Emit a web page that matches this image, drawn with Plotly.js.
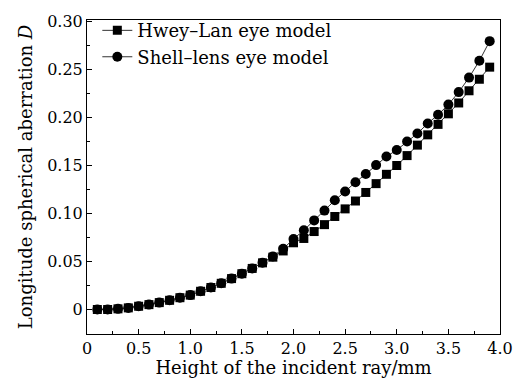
<!DOCTYPE html>
<html>
<head>
<meta charset="utf-8">
<script src="https://cdn.plot.ly/plotly-3.0.1.min.js"></script>
<style>html,body{margin:0;padding:0;background:#fff;}#chart{width:515px;height:378px;}</style>
</head>
<body>
<div id="chart"></div>
<script>
const heights = [0.1,0.2,0.3,0.4,0.5,0.6,0.7,0.8,0.9,1.0,1.1,1.2,1.3,1.4,1.5,1.6,1.7,1.8,1.9,2.0,2.1,2.2,2.3,2.4,2.5,2.6,2.7,2.8,2.9,3.0,3.1,3.2,3.3,3.4,3.5,3.6,3.7,3.8,3.9];
const hweyLan = [0,0,0.0007,0.0017,0.0034,0.0051,0.0072,0.0096,0.0123,0.015,0.019,0.0229,0.0273,0.0322,0.0373,0.0428,0.0486,0.0545,0.061,0.0695,0.074,0.0812,0.0884,0.0969,0.1048,0.113,0.1219,0.1311,0.1408,0.15,0.1603,0.1712,0.1819,0.1928,0.2038,0.2151,0.2278,0.2398,0.2524];
const shellLens = [0,0,0.0007,0.0017,0.0034,0.0051,0.0072,0.0096,0.0123,0.015,0.019,0.0229,0.0273,0.0322,0.0373,0.0428,0.0488,0.0553,0.0633,0.0735,0.0825,0.0928,0.103,0.1137,0.1229,0.1326,0.1411,0.1504,0.1593,0.1661,0.175,0.1833,0.1938,0.2028,0.2134,0.2264,0.2415,0.259,0.2795];
const xTickVals = [0,0.5,1.0,1.5,2.0,2.5,3.0,3.5,4.0];
const xTickText = ["0","0.5","1.0","1.5","2.0","2.5","3.0","3.5","4.0"];
const yTickVals = [0,0.05,0.10,0.15,0.20,0.25,0.30];
const yTickText = ["0","0.05","0.10","0.15","0.20","0.25","0.30"];
const names = ["Hwey\u2013Lan eye model","Shell\u2013lens eye model"];

const font = "DejaVu Serif, Liberation Serif, serif";
const traces = [
  {x: heights, y: hweyLan, name: names[0], mode: "lines+markers", type: "scatter",
   line: {color: "#333", width: 1}, marker: {symbol: "square", size: 9, color: "#000"}},
  {x: heights, y: shellLens, name: names[1], mode: "lines+markers", type: "scatter",
   line: {color: "#333", width: 1}, marker: {symbol: "circle", size: 10, color: "#000"}}
];
const layout = {
  width: 515, height: 378,
  margin: {l: 87, r: 15, t: 17, b: 44, pad: 0},
  paper_bgcolor: "#fff", plot_bgcolor: "#fff",
  font: {family: font, color: "#000", size: 16},
  showlegend: true,
  legend: {x: 0.025, y: 1.025, xanchor: "left", yanchor: "top", bgcolor: "rgba(0,0,0,0)",
           font: {family: font, size: 18, color: "#000"}, tracegroupgap: 0, itemwidth: 30},
  xaxis: {range: [0, 4.0], tickvals: xTickVals, ticktext: xTickText, ticks: "inside", ticklen: 5,
          tickcolor: "#000", showline: true, linecolor: "#000", linewidth: 1, mirror: true,
          showgrid: false, zeroline: false, tickfont: {size: 16}, ticklabeloverflow: "allow",
          minor: {dtick: 0.25, ticks: "inside", ticklen: 3, tickcolor: "#000"},
          title: {text: "Height of the incident ray/mm", font: {size: 18}, standoff: 1}},
  yaxis: {range: [-0.0255, 0.3015], tickvals: yTickVals, ticktext: yTickText, ticks: "inside", ticklen: 5,
          tickcolor: "#000", showline: true, linecolor: "#000", linewidth: 1, mirror: true,
          showgrid: false, zeroline: false, tickfont: {size: 16}, ticklabeloverflow: "allow",
          minor: {dtick: 0.025, ticks: "inside", ticklen: 3, tickcolor: "#000"},
          title: {text: "Longitude spherical aberration <i>D</i>", font: {size: 18}, standoff: 9}}
};
Plotly.newPlot("chart", traces, layout, {displayModeBar: false, staticPlot: true});
</script>
</body>
</html>
